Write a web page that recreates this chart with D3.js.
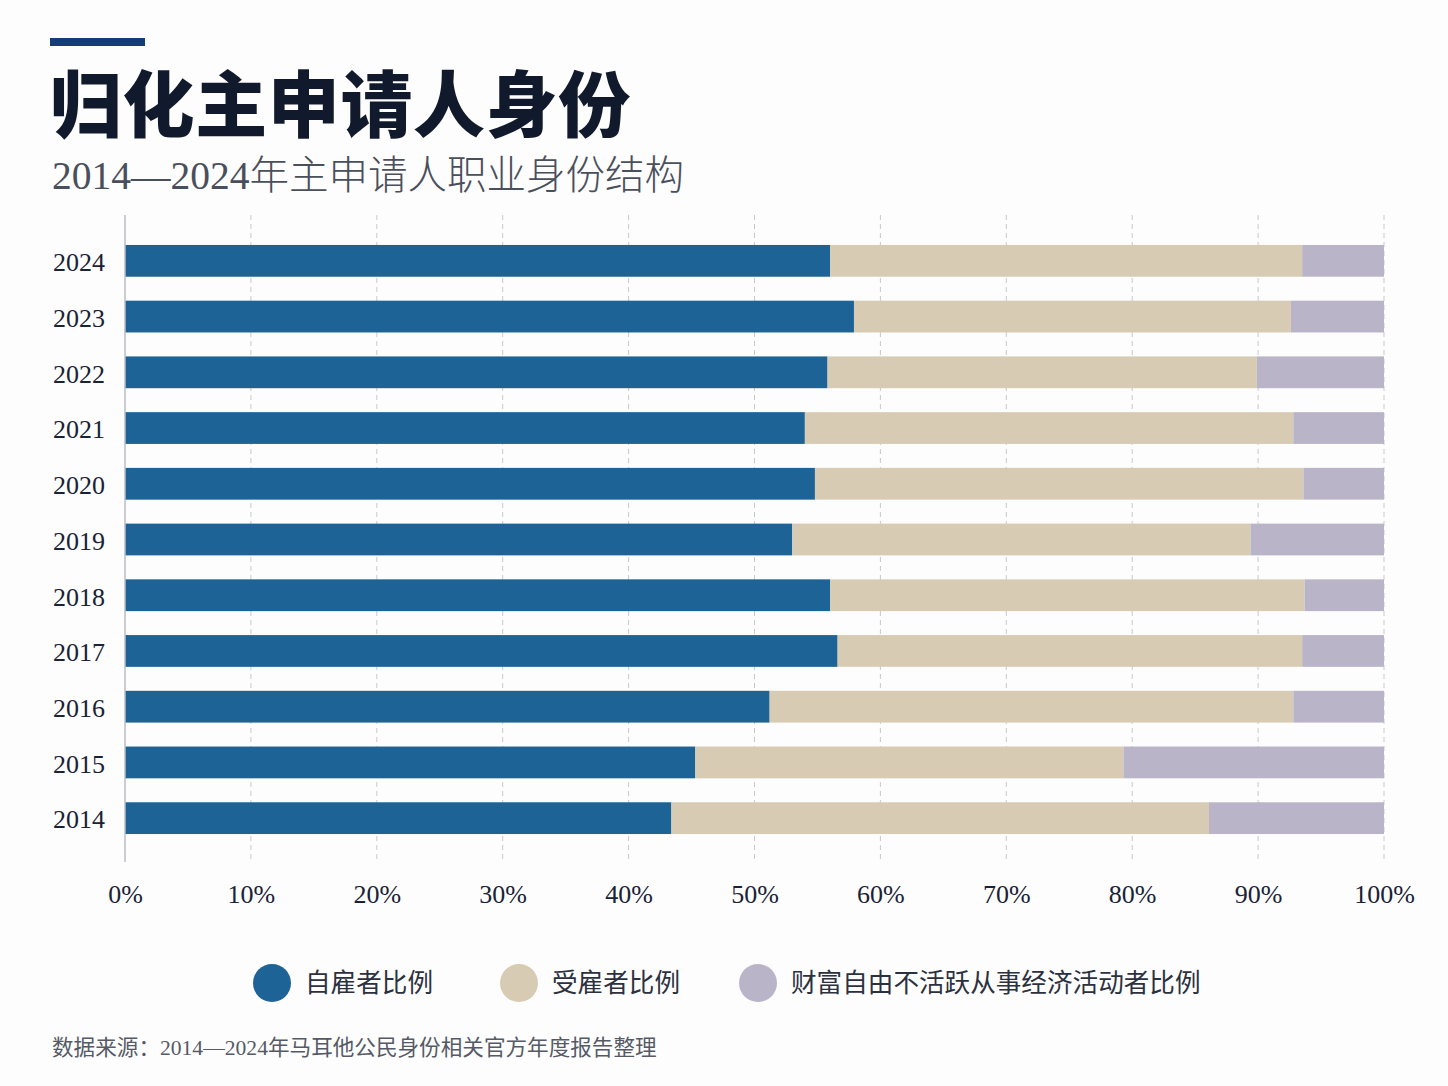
<!DOCTYPE html>
<html>
<head>
<meta charset="utf-8">
<script src="https://cdn.jsdelivr.net/npm/d3@7"></script>
<style>
  body { margin: 0; background: #fdfdfd; }
  svg { display: block; }
</style>
</head>
<body>
<div id="chart"></div>
<script>
const years = ["2024", "2023", "2022", "2021", "2020", "2019", "2018", "2017", "2016", "2015", "2014"];
const selfEmployed = [56.0, 57.9, 55.8, 54.0, 54.8, 53.0, 56.0, 56.6, 51.2, 45.3, 43.4];
const employed     = [37.5, 34.7, 34.1, 38.8, 38.8, 36.4, 37.7, 36.9, 41.6, 34.0, 42.7];
const inactive     = [6.5, 7.4, 10.1, 7.2, 6.4, 10.6, 6.3, 6.5, 7.2, 20.7, 13.9];
const seriesNames = ["自雇者比例", "受雇者比例", "财富自由不活跃从事经济活动者比例"];
const ticks = [0, 10, 20, 30, 40, 50, 60, 70, 80, 90, 100];

const W = 1448, H = 1086;
const colors = ["#1d6396", "#d7cbb3", "#bab4c9"];
const numFont = "'Liberation Serif', 'DejaVu Serif', serif";
const cjkFont = "'Noto Sans CJK SC', sans-serif";

const svg = d3.select("#chart").append("svg")
  .attr("width", W)
  .attr("height", H);

svg.append("rect").attr("width", W).attr("height", H).attr("fill", "#fdfdfd");

// header
svg.append("rect")
  .attr("x", 50).attr("y", 38)
  .attr("width", 95).attr("height", 8)
  .attr("fill", "#173b78");

svg.append("text")
  .attr("x", 50).attr("y", 131)
  .attr("font-family", cjkFont)
  .attr("font-weight", 900)
  .attr("font-size", 72)
  .attr("letter-spacing", 0.6)
  .attr("fill", "#111a2c")
  .text("归化主申请人身份");

svg.append("text")
  .attr("x", 52).attr("y", 189)
  .attr("font-family", numFont + ", " + cjkFont)
  .attr("font-weight", 300)
  .attr("font-size", 39.5)
  .attr("fill", "#4a4f5c")
  .text("2014—2024年主申请人职业身份结构");

// scales
const x = d3.scaleLinear().domain([0, 100]).range([125, 1384]);
const y = d3.scaleBand().domain(years).range([221, 858]).padding(0.43);

const rows = years.map((yr, i) => ({
  year: yr,
  s0: selfEmployed[i],
  s1: employed[i],
  s2: inactive[i]
}));
const stack = d3.stack().keys(["s0", "s1", "s2"]);
const layers = stack(rows);

// gridlines
svg.append("g")
  .selectAll("line")
  .data(ticks.filter(t => t > 0))
  .join("line")
  .attr("x1", d => x(d)).attr("x2", d => x(d))
  .attr("y1", 215).attr("y2", 862)
  .attr("stroke", "#c9c9cc")
  .attr("stroke-width", 1)
  .attr("stroke-dasharray", "5,4");

// bars
svg.append("g")
  .selectAll("g")
  .data(layers)
  .join("g")
  .attr("fill", (d, i) => colors[i])
  .selectAll("rect")
  .data(d => d)
  .join("rect")
  .attr("x", d => x(d[0]))
  .attr("y", d => y(d.data.year))
  .attr("width", d => x(d[1]) - x(d[0]))
  .attr("height", y.bandwidth());

// y axis line
svg.append("line")
  .attr("x1", x(0)).attr("x2", x(0))
  .attr("y1", 215).attr("y2", 862)
  .attr("stroke", "#b8bcc4")
  .attr("stroke-width", 1.5);

// year labels
const yAxis = svg.append("g")
  .attr("transform", `translate(${x(0) - 20},2)`)
  .call(d3.axisLeft(y).tickSize(0).tickPadding(0));
yAxis.select(".domain").remove();
yAxis.selectAll("text")
  .attr("font-family", numFont)
  .attr("font-size", 26)
  .attr("fill", "#1a2236");

// x tick labels
const xAxis = svg.append("g")
  .attr("transform", "translate(0,885)")
  .call(d3.axisBottom(x).tickValues(ticks).tickFormat(d => d + "%").tickSize(0).tickPadding(0));
xAxis.select(".domain").remove();
xAxis.selectAll("text")
  .attr("dy", "0.71em")
  .attr("font-family", numFont)
  .attr("font-size", 26)
  .attr("fill", "#1a2236");

// legend
const legendX = [272, 519, 758];
const legend = svg.append("g")
  .selectAll("g")
  .data(seriesNames)
  .join("g")
  .attr("transform", (d, i) => `translate(${legendX[i]},983)`);

legend.append("circle")
  .attr("r", 19)
  .attr("fill", (d, i) => colors[i]);

legend.append("text")
  .attr("x", 33)
  .attr("dy", "0.35em")
  .attr("font-family", cjkFont)
  .attr("font-size", 25.6)
  .attr("fill", "#2c3140")
  .text(d => d);

// source
svg.append("text")
  .attr("x", 52).attr("y", 1055)
  .attr("font-family", numFont + ", " + cjkFont)
  .attr("font-size", 21.6)
  .attr("fill", "#555a66")
  .text("数据来源：2014—2024年马耳他公民身份相关官方年度报告整理");
</script>
</body>
</html>
